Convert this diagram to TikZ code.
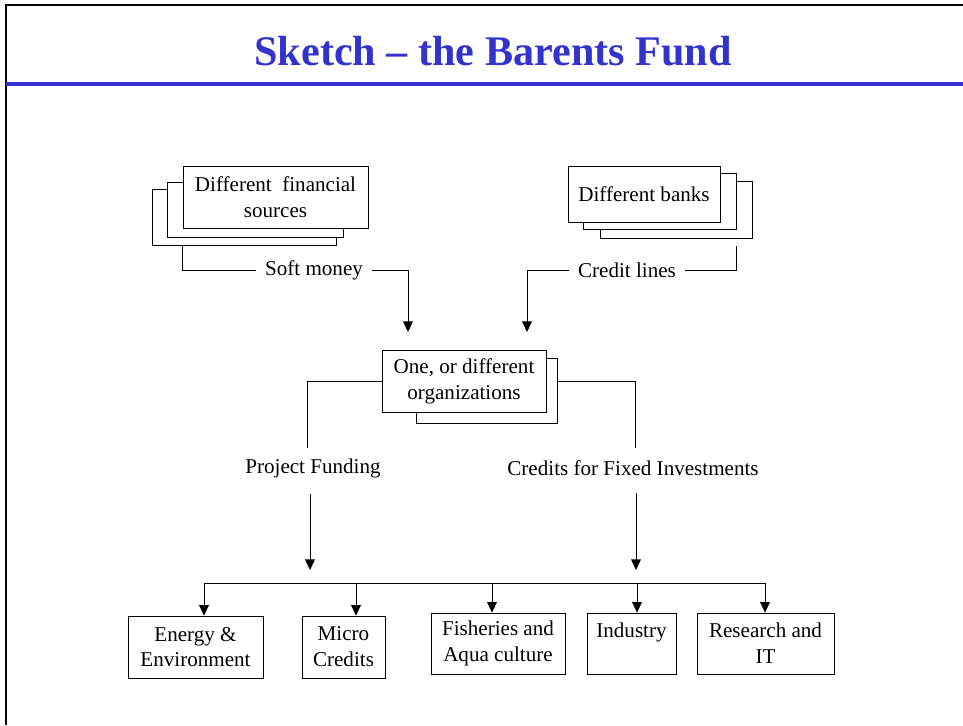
\documentclass[tikz,border=0pt]{standalone}
\usepackage{fontspec}
\setmainfont{Liberation Serif}
\usetikzlibrary{arrows.meta}
\definecolor{titleblue}{RGB}{51,51,204}
\tikzset{every node/.style={font=\fontsize{12}{14.7}\selectfont},
 box/.style 2 args={draw, fill=white, align=center, inner sep=0pt,
  minimum width=#1*0.02cm, minimum height=#2*0.02cm},
 lbl/.style={inner sep=5pt},
 wire/.style={draw, line width=0.5pt},
 arr/.style={wire, -{Triangle[width=5.5pt,length=6pt]}},
 }

\begin{document}
\begin{tikzpicture}[x=0.02cm, y=-0.02cm]
        \useasboundingbox (0,0) rectangle (963,725);
        % frame and title
        \draw[line width=1.2pt] (6,725) -- (6,5) -- (963,5);
        \draw[line width=1.8pt, titleblue] (6,84) -- (963,84);
        \node[titleblue, font=\fontsize{24}{28}\selectfont\bfseries] (title) at (493,51) {Sketch -- the Barents Fund};

        % sources
        \node[box={184}{56}] (fin3) at (244,217) {};
        \node[box={176}{55}] (fin2) at (255,209.5) {};
        \node[box={185}{62}] (fin1) at (275.5,197) {Different~ financial\\sources};
        \node[box={152}{57}] (bank3) at (676,209.5) {};
        \node[box={153}{56}] (bank2) at (659.5,201) {};
        \node[box={152}{56}] (bank1) at (644,194) {Different banks};

        \node[lbl] (soft) at (314,270) {Soft money};
        \node[lbl] (credit) at (627,270) {Credit lines};
        \coordinate (banksrc) at (736,246);
        \coordinate (softin) at (408,332);
        \coordinate (creditin) at (527,332);
        \draw[wire] (fin1.west |- fin3.south) |- (soft.west);
        \draw[arr] (soft.east) -| (softin);
        \draw[wire] (banksrc) |- (credit.east);
        \draw[arr] (credit.west) -| (creditin);

        % organizations
        \node[box={141}{65}] (org2) at (486.5,390.5) {};
        \node[box={164}{62}] (org1) at (464,381) {One, or different\\organizations};

        \node (proj) at (313,468) {Project Funding};
        \node (fixed) at (633,468) {Credits for Fixed Investments};
        \coordinate (projtop) at (307,448);
        \coordinate (fixedtop) at (635,448);
        \draw[wire] (org1.west) -| (projtop);
        \draw[wire] (org2.east |- org1.west) -| (fixedtop);
        \coordinate (projout) at (310,494);
        \coordinate (projin) at (310,570);
        \coordinate (fixedout) at (636,493);
        \coordinate (fixedin) at (636,570);
        \draw[arr] (projout) -- (projin);
        \draw[arr] (fixedout) -- (fixedin);

        % sectors
        \node[box={135}{62}] (energy) at (195.5,647) {Energy \&\\Environment};
        \node[box={83}{62}] (micro) at (343.5,647) {Micro\\Credits};
        \node[box={134}{61}] (fish) at (498,643.5) {Fisheries and\\Aqua culture};
        \node[box={89}{61}] (industry) at (631.5,643.5) {Industry\\~};
        \node[box={137}{61}] (research) at (765.5,643.5) {Research and\\IT};

        \coordinate (busl) at (204,583);
        \coordinate (busr) at (765,583);
        \draw[wire] (busl) -- (busr);
        \foreach \n/\x in {energy/204, micro/356, fish/492, industry/637, research/765}
            \draw[arr] (\x,583) -- (\x,0 |- \n.north);
    \end{tikzpicture}
\end{document}
